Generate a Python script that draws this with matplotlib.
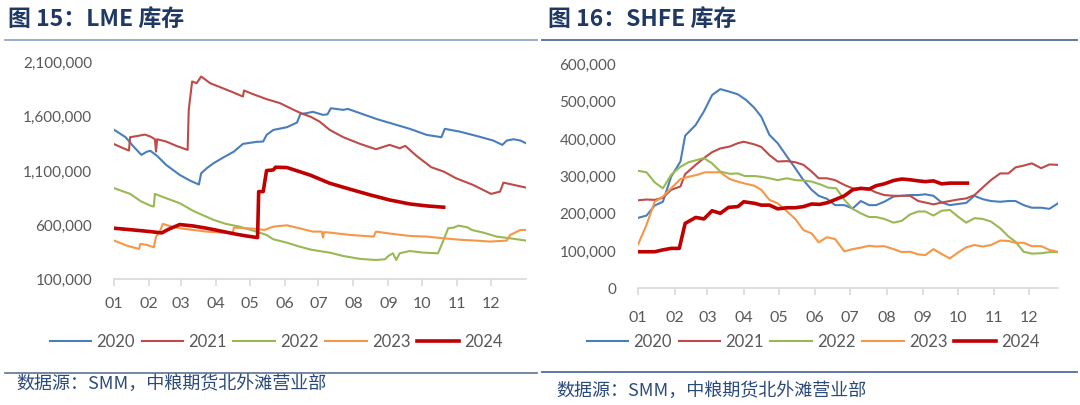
import matplotlib
matplotlib.use("Agg")
import matplotlib.pyplot as plt
from matplotlib.lines import Line2D
from matplotlib.ticker import FuncFormatter

plt.rcParams['font.family'] = ['Lato', 'Noto Sans CJK SC', 'DejaVu Sans']

# ---- 数据 (x = 一年中的第几天, 值) ----
years = ['2020', '2021', '2022', '2023', '2024']
colors = ['#4A7EBB', '#BE4B48', '#98B954', '#F79646', '#C00000']

# LME 库存 (吨)
lme_2020_d = [0, 10, 17, 24, 29, 32, 38, 46, 58, 67, 75, 77, 82, 88, 97, 106, 114, 126, 132, 135,
              141, 153, 162, 165, 170, 176, 185, 189, 192, 203, 207, 218, 233, 247, 262, 277, 290,
              293, 306, 321, 336, 344, 348, 354, 360, 365]
lme_2020_v = [1478, 1411, 1325, 1248, 1278, 1285, 1238, 1155, 1063, 1011, 974, 1078, 1125, 1171,
              1226, 1278, 1349, 1368, 1371, 1432, 1478, 1503, 1546, 1626, 1632, 1645, 1617, 1622,
              1678, 1663, 1672, 1632, 1577, 1534, 1488, 1432, 1411, 1488, 1463, 1423, 1380, 1340,
              1380, 1392, 1380, 1355]
lme_2021_d = [0, 8, 13, 14, 21, 27, 32, 36, 37, 38, 46, 55, 65, 66, 69, 73, 77, 85, 94, 105, 114,
              115, 123, 135, 147, 159, 167, 174, 182, 191, 203, 218, 232, 244, 253, 258, 268, 281,
              292, 303, 318, 330, 334, 342, 345, 354, 365]
lme_2021_v = [1346, 1309, 1288, 1411, 1423, 1435, 1417, 1392, 1278, 1392, 1371, 1331, 1294, 1663,
              1925, 1909, 1971, 1909, 1872, 1826, 1786, 1842, 1808, 1762, 1725, 1663, 1626, 1600,
              1555, 1478, 1411, 1349, 1300, 1340, 1309, 1331, 1238, 1134, 1094, 1032, 971, 909,
              888, 909, 992, 971, 946]
lme_2022_d = [0, 14, 24, 32, 35, 36, 46, 58, 70, 76, 88, 99, 111, 126, 135, 141, 153, 164, 175,
              191, 203, 218, 232, 240, 243, 247, 250, 253, 262, 274, 287, 292, 296, 301, 305, 313,
              317, 327, 339, 351, 365]
lme_2022_v = [940, 888, 817, 780, 771, 888, 848, 802, 731, 703, 648, 611, 586, 540, 509, 469, 438,
              402, 372, 346, 315, 288, 278, 285, 315, 340, 278, 340, 361, 346, 340, 463, 571, 577,
              595, 580, 555, 531, 494, 478, 457]
lme_2023_d = [0, 11, 22, 23, 29, 35, 37, 40, 43, 51, 58, 70, 82, 94, 105, 106, 117, 126, 133, 141,
              153, 164, 176, 184, 185, 186, 191, 209, 230, 232, 247, 262, 277, 292, 309, 321, 333,
              348, 351, 360, 365]
lme_2023_v = [457, 411, 380, 426, 417, 395, 494, 531, 611, 586, 571, 555, 540, 531, 525, 577, 571,
              565, 555, 586, 598, 571, 540, 540, 485, 535, 531, 509, 494, 540, 518, 500, 494, 478,
              463, 457, 448, 457, 509, 555, 555]
lme_2024_d = [0, 17, 32, 42, 48, 58, 70, 82, 94, 107, 117, 127, 128, 132, 135, 141, 143, 153, 164,
              174, 191, 209, 227, 244, 262, 277, 292]
lme_2024_v = [571, 555, 540, 528, 561, 605, 592, 571, 546, 518, 500, 485, 909, 909, 1103, 1109,
              1134, 1131, 1094, 1060, 986, 931, 878, 832, 795, 777, 765]

# SHFE 库存 (吨), 周度
shfe_2020_d = [0, 7, 14, 21, 28, 36, 40, 49, 56, 63, 70, 78, 85, 92, 99, 105, 112, 119, 127, 134,
               141, 148, 154, 161, 168, 176, 183, 190, 197, 203, 210, 218, 225, 232, 239, 245,
               252, 259, 266, 273, 280, 287, 294, 301, 309, 316, 322, 329, 336, 344, 351, 358]
shfe_2020_v = [189, 195, 222, 232, 299, 340, 409, 438, 474, 518, 534, 527, 520, 505, 484, 460, 411,
               389, 353, 322, 290, 264, 248, 240, 223, 223, 214, 234, 223, 223, 232, 246, 248, 250,
               250, 252, 248, 230, 223, 226, 229, 248, 239, 234, 232, 234, 234, 223, 216, 216, 213,
               227]
shfe_2021_d = [0, 7, 14, 21, 28, 36, 40, 49, 56, 63, 70, 78, 85, 90, 99, 105, 112, 119, 127, 134,
               141, 148, 154, 161, 168, 176, 183, 190, 197, 203, 210, 218, 225, 232, 239, 245,
               252, 259, 266, 273, 280, 287, 294, 301, 309, 316, 322, 329, 336, 344, 351, 358]
shfe_2021_v = [236, 238, 237, 243, 264, 273, 306, 331, 349, 365, 375, 380, 389, 393, 386, 379, 357,
               340, 341, 338, 331, 313, 295, 295, 290, 277, 268, 266, 266, 257, 250, 248, 248, 248,
               234, 230, 225, 230, 234, 238, 241, 250, 270, 290, 308, 308, 324, 329, 335, 322, 332,
               331]
shfe_2022_d = [0, 7, 14, 21, 28, 36, 43, 50, 56, 63, 70, 78, 85, 91, 99, 105, 112, 119, 127, 134,
               141, 148, 155, 162, 169, 176, 183, 190, 197, 203, 210, 218, 225, 232, 239, 245,
               252, 259, 266, 273, 280, 287, 294, 301, 309, 316, 322, 329, 336, 344, 351, 358]
shfe_2022_v = [315, 311, 284, 268, 304, 326, 338, 344, 349, 335, 313, 307, 308, 301, 301, 299, 295,
               290, 295, 290, 289, 286, 279, 270, 268, 237, 213, 201, 191, 191, 186, 176, 181, 198,
               206, 206, 195, 208, 210, 192, 176, 188, 186, 179, 161, 139, 125, 98, 93, 94, 97, 97]
shfe_2023_d = [0, 7, 14, 21, 28, 36, 43, 50, 57, 63, 70, 78, 85, 92, 99, 105, 112, 119, 127, 134,
               141, 148, 154, 161, 168, 176, 183, 190, 197, 203, 210, 218, 225, 232, 239, 245,
               252, 259, 266, 273, 280, 287, 294, 301, 309, 316, 322, 329, 336, 344, 351, 358]
shfe_2023_v = [119, 170, 232, 246, 268, 293, 299, 304, 311, 311, 311, 293, 286, 280, 275, 264, 237,
               228, 206, 186, 156, 147, 123, 137, 132, 99, 105, 109, 114, 112, 113, 105, 97, 98, 91,
               89, 105, 92, 80, 96, 110, 116, 112, 116, 128, 127, 122, 122, 113, 113, 103, 98]
shfe_2024_d = [0, 7, 14, 21, 28, 35, 40, 49, 56, 63, 70, 77, 85, 90, 99, 105, 112, 119, 127, 134,
               141, 148, 155, 162, 169, 176, 183, 190, 197, 203, 210, 218, 225, 232, 239, 245,
               252, 259, 266, 273, 281]
shfe_2024_v = [98, 98, 98, 103, 107, 107, 174, 190, 186, 208, 201, 217, 219, 232, 228, 223, 223,
               213, 216, 216, 219, 226, 225, 230, 239, 248, 264, 268, 266, 275, 280, 289, 293, 291,
               288, 286, 288, 280, 282, 282, 282]

month_starts = [0, 31, 59, 90, 120, 151, 181, 212, 243, 273, 304, 334]
month_labels = ['01', '02', '03', '04', '05', '06', '07', '08', '09', '10', '11', '12']

lme = [(lme_2020_d, lme_2020_v), (lme_2021_d, lme_2021_v), (lme_2022_d, lme_2022_v),
       (lme_2023_d, lme_2023_v), (lme_2024_d, lme_2024_v)]
shfe = [(shfe_2020_d, shfe_2020_v), (shfe_2021_d, shfe_2021_v), (shfe_2022_d, shfe_2022_v),
        (shfe_2023_d, shfe_2023_v), (shfe_2024_d, shfe_2024_v)]

W, H = 1080, 405
fig = plt.figure(figsize=(W / 100, H / 100), dpi=100)


def px_box(x0, x1, ytop, ybot):
    return [x0 / W, 1 - ybot / H, (x1 - x0) / W, (ybot - ytop) / H]


def hline(x0, x1, y, color, lw):
    fig.add_artist(Line2D([x0 / W, x1 / W], [1 - y / H, 1 - y / H], transform=fig.transFigure,
                          color=color, linewidth=lw))


def style_axis(ax, xmax, ymin, ymax, ystep, pad_x):
    ax.set_xlim(0, xmax)
    ax.set_ylim(ymin, ymax)
    ax.set_yticks(range(ymin, ymax + 1, ystep))
    ax.yaxis.set_major_formatter(FuncFormatter(lambda v, p: f'{int(v * 1000):,}'))
    ax.set_xticks(month_starts)
    ax.set_xticklabels(month_labels)
    for s in ['top', 'right', 'left']:
        ax.spines[s].set_visible(False)
    ax.spines['bottom'].set_color('#D9D9D9')
    ax.spines['bottom'].set_linewidth(1.2)
    ax.tick_params(axis='y', length=0, pad=16, labelsize=11, labelcolor='#595959')
    ax.tick_params(axis='x', length=5, width=1.2, color='#D9D9D9', pad=pad_x,
                   labelsize=11.5, labelcolor='#595959')


def draw(ax, series):
    handles = []
    for (d, v), c, y in zip(series, colors, years):
        lw = 2.6 if y == '2024' else 1.5
        h, = ax.plot(d, v, color=c, linewidth=lw, label=y, zorder=3 if y == '2024' else 2)
        handles.append(h)
    return handles


leg_kw = dict(loc='center', bbox_transform=fig.transFigure, ncol=5, frameon=False, fontsize=12,
              handlelength=2.5, handletextpad=0.3, columnspacing=0.4, labelcolor='#595959')

# 左图: LME
ax1 = fig.add_axes(px_box(114.3, 526, 62.5, 279.3))
h1 = draw(ax1, lme)
style_axis(ax1, 365, 100, 2100, 500, 8)
ax1.legend(handles=h1, bbox_to_anchor=(276 / W, 1 - 342 / H), **leg_kw)

# 右图: SHFE
ax2 = fig.add_axes(px_box(638.3, 1057.6, 64.5, 288.3))
h2 = draw(ax2, shfe)
style_axis(ax2, 358, 0, 600, 100, 11)
ax2.legend(handles=h2, bbox_to_anchor=(813 / W, 1 - 342 / H), **leg_kw)

# 标题, 分隔线, 数据来源
title_kw = dict(fontsize=16.5, fontweight='bold', color='#1F3864', va='center', ha='left',
                family=['Noto Sans CJK SC', 'DejaVu Sans'])
fig.text(8 / W, 1 - 19 / H, '图 15：LME 库存', **title_kw)
fig.text(548 / W, 1 - 19 / H, '图 16：SHFE 库存', **title_kw)

hline(5, 537, 40, '#8FA7CC', 1.3)
hline(542, 1077, 40, '#4F6D9C', 1.3)
hline(5, 537, 373, '#5E7293', 1.2)
hline(542, 1077, 372, '#4F6D9C', 1.3)

src_kw = dict(fontsize=13, color='#2B4A7C', va='center', ha='left', style='italic',
              family=['Noto Sans CJK SC', 'DejaVu Sans'])
fig.text(16 / W, 1 - 384 / H, '数据源：SMM，中粮期货北外滩营业部', **src_kw)
fig.text(556 / W, 1 - 391 / H, '数据源：SMM，中粮期货北外滩营业部', **src_kw)

fig.savefig('out.png', dpi=100)
